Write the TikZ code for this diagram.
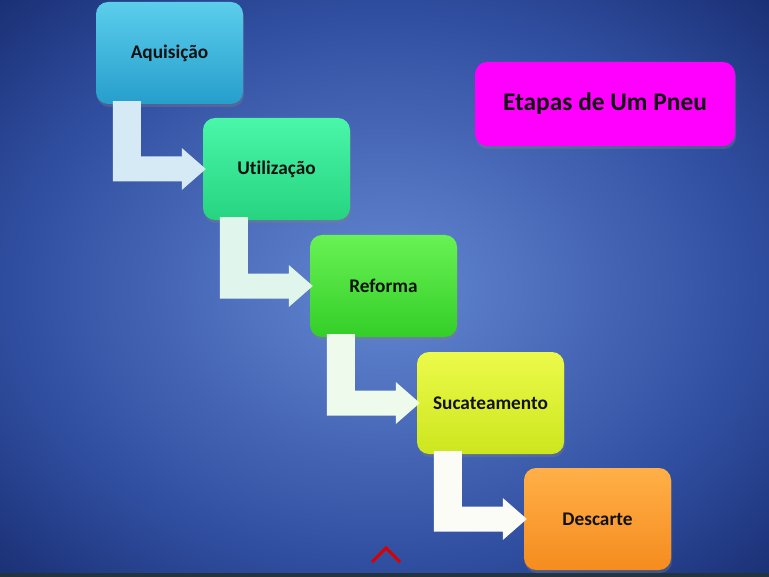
\documentclass[tikz,border=0pt]{standalone}
\usepackage{fontspec}
\setmainfont{Carlito}[Ligatures=NoCommon]
\usepackage{tikz}
\usetikzlibrary{calc,shadows,positioning}

\definecolor{bgin}{RGB}{100,136,210}
\definecolor{bgmid}{RGB}{48,78,160}
\definecolor{bgout}{RGB}{18,36,100}
\definecolor{faixa}{RGB}{34,52,64}
\definecolor{aqtop}{RGB}{92,206,236}
\definecolor{aqbot}{RGB}{38,158,204}
\definecolor{uttop}{RGB}{74,246,168}
\definecolor{utbot}{RGB}{38,212,128}
\definecolor{retop}{RGB}{104,242,84}
\definecolor{rebot}{RGB}{52,206,40}
\definecolor{sutop}{RGB}{236,250,74}
\definecolor{subot}{RGB}{204,230,30}
\definecolor{detop}{RGB}{255,176,72}
\definecolor{debot}{RGB}{245,140,30}
\definecolor{titulo}{RGB}{255,0,255}
\definecolor{setaA}{RGB}{214,234,246}
\definecolor{setaB}{RGB}{224,246,236}
\definecolor{setaC}{RGB}{238,250,236}
\definecolor{setaD}{RGB}{252,252,246}
\definecolor{texto}{RGB}{18,18,18}

\pgfdeclareradialshading{fundo}{\pgfpoint{0bp}{0bp}}{color(0bp)=(bgin); color(24bp)=(bgmid); color(40bp)=(bgout); color(50bp)=(bgout)}

% seta dobrada de uma etapa para a seguinte
\newcommand{\etapaseta}[3]{%
\fill[#3] ($(#1.south west)+(17,-3)$) -- ($(#1.south west)+(45,-3)$)
  |- ($(#2.west)+(-21,-12.5)$) -- ($(#2.west)+(-21,-21)$)
  -- ($(#2.west)+(3,0)$) -- ($(#2.west)+(-21,21)$)
  -- ($(#2.west)+(-21,12.5)$) -| ($(#1.south west)+(17,-3)$) -- cycle;}

\begin{document}
\begin{tikzpicture}[x=1bp,y=-1bp,
  etapa/.style={rounded corners=12bp, minimum width=147bp, minimum height=102bp,
    text=texto, font=\bfseries\fontsize{19.3bp}{22bp}\selectfont,
    drop shadow={shadow xshift=1bp, shadow yshift=-3bp, opacity=0.35}},
  marca/.style={draw=red!85!black, line width=3bp}]
\useasboundingbox (0,0) rectangle (769,577);
\shade[shading=fundo] (0,0) rectangle (769,577);
\fill[faixa] (0,573) rectangle (769,577);

\node[etapa, top color=aqtop, bottom color=aqbot] (aquisicao) at (169.5,53) {Aquisição};
\node[etapa, top color=uttop, bottom color=utbot] (utilizacao) at (276.5,169) {Utilização};
\node[etapa, top color=retop, bottom color=rebot] (reforma) at (383.5,286) {Reforma};
\node[etapa, top color=sutop, bottom color=subot] (sucateamento) at (490.5,403) {Sucateamento};
\node[etapa, top color=detop, bottom color=debot] (descarte) at (597.5,519) {Descarte};
\node[etapa, fill=titulo, minimum width=260bp, minimum height=84bp,
  font=\bfseries\fontsize{25.4bp}{28bp}\selectfont] (titulo) at (605,104) {Etapas de Um Pneu};

\etapaseta{aquisicao}{utilizacao}{setaA}
\etapaseta{utilizacao}{reforma}{setaB}
\etapaseta{reforma}{sucateamento}{setaC}
\etapaseta{sucateamento}{descarte}{setaD}

\draw[marca] (372,562) -- (386,548) -- (400,562);
\end{tikzpicture}
\end{document}
